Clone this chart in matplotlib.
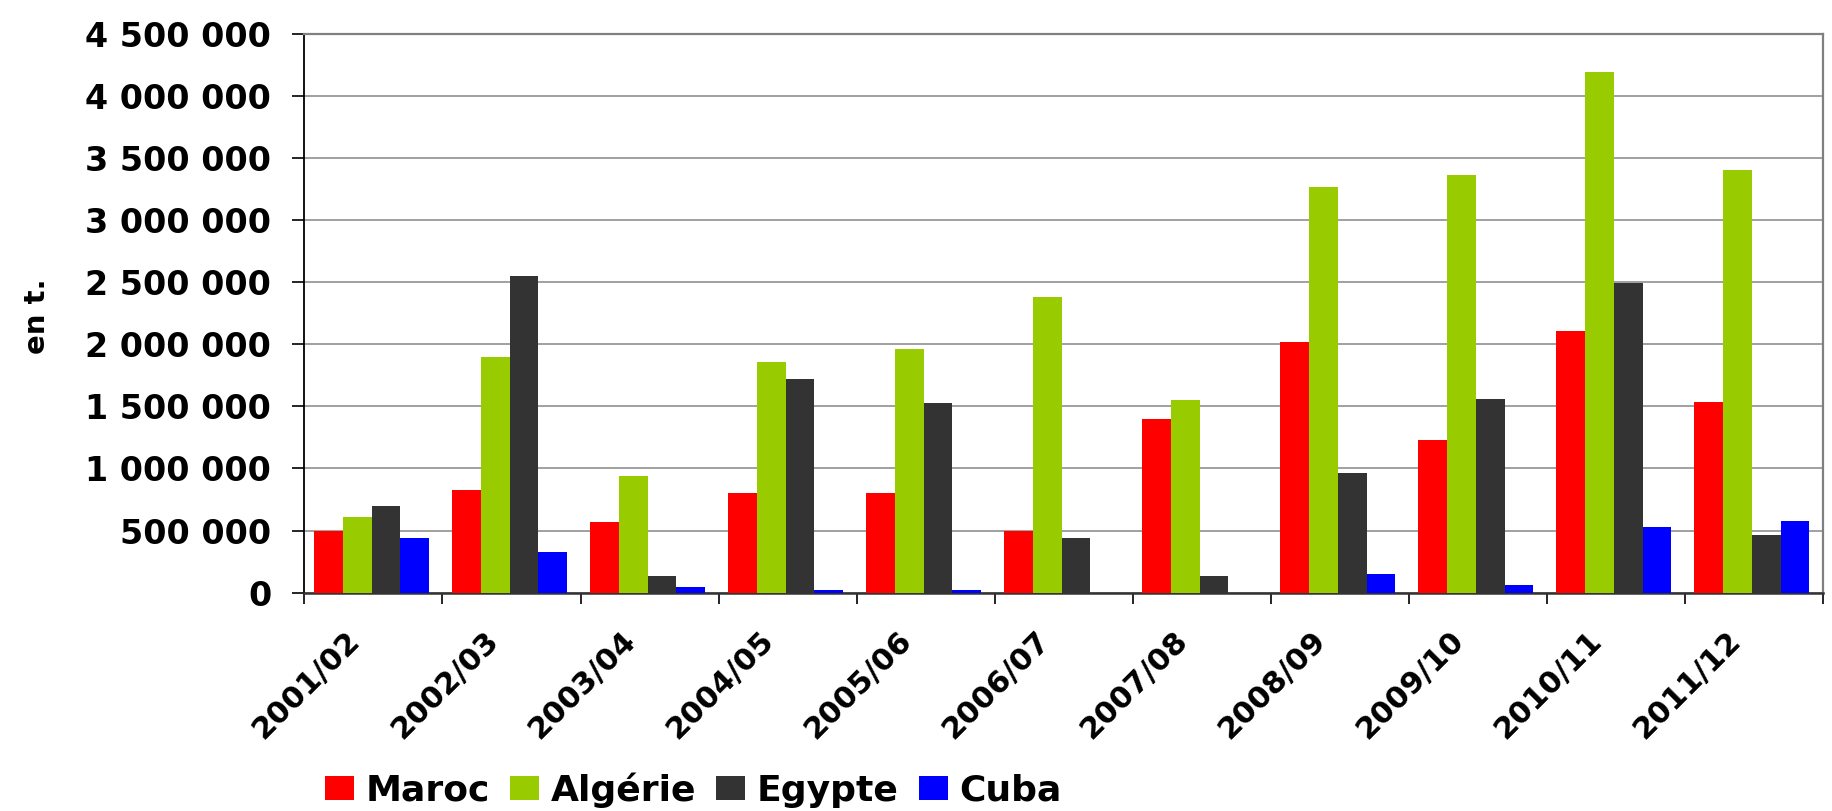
import matplotlib
matplotlib.use("Agg")
import matplotlib.pyplot as plt
import matplotlib.transforms as mtransforms
from matplotlib.ticker import FuncFormatter, FixedLocator
import numpy as np

categories = ["2001/02", "2002/03", "2003/04", "2004/05", "2005/06", "2006/07",
              "2007/08", "2008/09", "2009/10", "2010/11", "2011/12"]
maroc = [500000, 830000, 565000, 805000, 805000, 500000, 1400000, 2020000, 1225000, 2105000, 1535000]
algerie = [612000, 1900000, 940000, 1855000, 1960000, 2380000, 1550000, 3265000, 3360000, 4190000, 3400000]
egypte = [695000, 2550000, 133000, 1720000, 1525000, 437000, 133000, 960000, 1560000, 2495000, 465000]
cuba = [437000, 325000, 45000, 21000, 21000, 0, 0, 149000, 65000, 532000, 575000]
series_names = ["Maroc", "Algérie", "Egypte", "Cuba"]
series_colors = ["#FF0000", "#99CC00", "#333333", "#0000FF"]
y_label = "en t."

plt.rcParams['font.family'] = ['DejaVu Sans']
plt.rcParams['font.weight'] = 'bold'

fig = plt.figure(figsize=(18.32, 8.11), dpi=100)
ax = fig.add_axes([0.1662, 0.2692, 0.8287, 0.6894])

x = np.arange(len(categories))
w = 0.208
data = [maroc, algerie, egypte, cuba]
handles = []
for i, (vals, name, col) in enumerate(zip(data, series_names, series_colors)):
    b = ax.bar(x + (i - 1.5) * w - 0.013, vals, width=w, color=col, label=name,
               zorder=3, linewidth=0)
    handles.append(b)

ax.set_xlim(-0.5, len(categories) - 0.5)
ax.set_ylim(0, 4500000)
ax.set_yticks(np.arange(0, 4500001, 500000))
ax.yaxis.set_major_formatter(FuncFormatter(lambda v, p: f"{int(v):,}".replace(",", " ")))
ax.grid(axis='y', color='#868686', linewidth=1.1, zorder=0)
ax.set_axisbelow(True)

# x ticks at category boundaries, labels at centers
ax.xaxis.set_major_locator(FixedLocator(np.arange(-0.5, len(categories), 1.0)))
ax.xaxis.set_major_formatter(FuncFormatter(lambda v, p: ""))
ax.xaxis.set_minor_locator(FixedLocator(x))
ax.set_xticklabels(categories, minor=True)
ax.tick_params(axis='x', which='major', direction='out', length=7.6, width=1.2, color='black')
ax.tick_params(axis='x', which='minor', length=0, pad=24, labelsize=22)
ax.tick_params(axis='y', direction='out', length=9, width=1.2, color='black', pad=15, labelsize=24)

offset = mtransforms.ScaledTranslation(-28 / 100, 0, fig.dpi_scale_trans)
for lab in ax.get_xticklabels(minor=True):
    lab.set_rotation(45)
    lab.set_ha('right')
    lab.set_va('top')
    lab.set_rotation_mode('anchor')
    lab.set_fontweight('bold')
    lab.set_transform(lab.get_transform() + offset)
for lab in ax.get_yticklabels():
    lab.set_fontweight('bold')

ax.spines['left'].set_color('black')
ax.spines['left'].set_linewidth(1.3)
ax.spines['bottom'].set_color('#333333')
ax.spines['bottom'].set_linewidth(1.8)
ax.spines['top'].set_color('#808080')
ax.spines['top'].set_linewidth(1.6)
ax.spines['right'].set_color('#808080')
ax.spines['right'].set_linewidth(1.6)

fig.text(37 / 1832, 1 - 316 / 811, y_label, rotation=90, ha='center', va='center',
         fontsize=21, fontweight='bold')

fig.legend(handles=handles, labels=series_names, loc='center left',
           bbox_to_anchor=(325 / 1832, 1 - 790 / 811), ncol=4, frameon=False,
           prop={'size': 26, 'weight': 'bold'}, handlelength=0.8, handleheight=0.64,
           handletextpad=0.32, columnspacing=0.56, borderaxespad=0, borderpad=0)

fig.savefig("out.png", dpi=100)
